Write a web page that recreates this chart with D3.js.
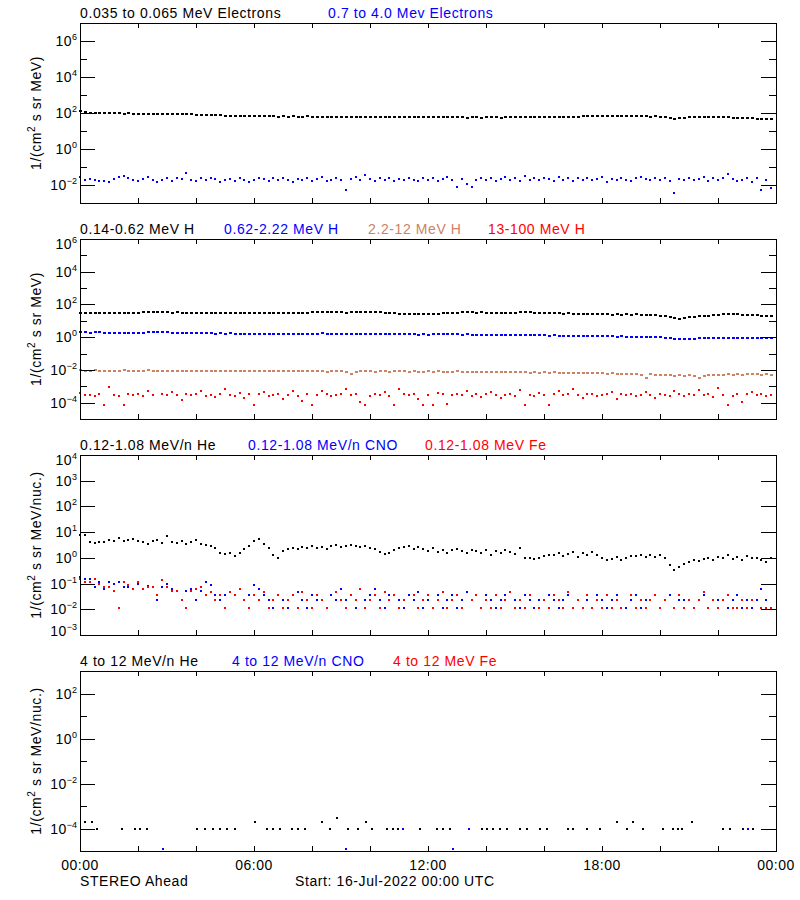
<!DOCTYPE html>
<html><head><meta charset="utf-8">
<script src="https://cdn.jsdelivr.net/npm/d3@7"></script>
<style>
body{margin:0;background:#fff;}
svg{display:block;font-family:"Liberation Sans",Arial,sans-serif;}
</style></head><body>
<svg id="c" width="800" height="900"></svg>
<script>
// ---------------- DATA ----------------
// 10-minute samples, hour of day 0..23.83
const sampleHours = d3.range(144).map(i => i / 6);

// Panel 1: electrons
const elecLow = [125,120,105,100,98,97, 96,95,94,93,95,92, 91,90,89,90,88,87, 86,85,86,84,83,84,
 80,78,79,76,75,74, 72,71,70,72,70,68, 66,65,66,64,65,63, 64,63,65,62,63,64,
 62,63,61,62,63,61, 62,60,61,63,62,60, 61,60,62,59,60,61, 60,59,58,60,59,58,
 58,59,57,58,57,59, 58,57,56,57,58,56, 57,58,57,56,58,57, 58,57,59,58,57,58,
 59,60,58,59,61,60, 61,62,64,66,67,68, 67,68,66,65,66,64, 65,66,64,65,63,64,
 62,60,55,49,52,56, 58,59,60,61,62,60, 59,58,57,56,55,54, 52,51,49,48,47,46];
const elecHigh = [0.028,0.018,0.022,0.019,0.017,0.016, 0.014,0.021,0.027,0.03,0.025,0.018,
 0.017,0.022,0.028,0.02,0.015,0.019, 0.024,0.017,0.026,0.021,0.047,0.02,
 0.016,0.023,0.018,0.025,0.021,0.015, 0.019,0.022,0.017,0.024,0.02,0.014,
 0.018,0.025,0.021,0.016,0.023,0.019, 0.026,0.02,0.015,0.022,0.018,0.024,
 0.017,0.021,0.028,0.016,0.02,0.023, 0.019,0.005,0.022,0.029,0.018,0.034,
 0.021,0.016,0.024,0.019,0.026,0.017, 0.022,0.018,0.025,0.02,0.016,0.023,
 0.019,0.024,0.017,0.022,0.027,0.018, 0.008,0.021,0.012,0.008,0.02,0.024,
 0.018,0.025,0.016,0.021,0.027,0.019, 0.023,0.017,0.03,0.02,0.024,0.018,
 0.025,0.021,0.016,0.028,0.02,0.023, 0.017,0.024,0.02,0.026,0.018,0.021,
 0.027,0.015,0.022,0.019,0.025,0.02, 0.016,0.023,0.029,0.021,0.018,0.024,
 0.02,0.026,0.017,0.0034,0.022,0.019, 0.024,0.018,0.021,0.027,0.016,0.023,
 0.019,0.025,0.041,0.022,0.017,0.02, 0.026,0.015,0.024,0.005,0.018,0.0065];

// Panel 2: protons
const protA = [31,32,31,30,31,32, 31,30,32,31,31,30, 32,33,34,35,34,33, 33,32,33,32,31,32,
 31,32,31,30,31,31, 30,31,30,31,32,31, 31,30,31,32,31,30, 31,32,31,30,31,32,
 33,34,35,34,35,34, 33,32,33,34,35,36, 35,34,33,32,30,29, 28,27,26,27,26,25,
 26,27,28,29,30,31, 32,33,34,33,32,33, 32,31,32,31,30,31, 32,33,34,33,32,31,
 30,29,30,29,28,29, 28,27,28,27,26,25, 26,25,24,25,24,25, 24,25,24,23,24,22,
 21,20,17,14,13,15, 17,18,19,20,21,22, 24,26,27,26,25,24, 23,22,22,21,21,20];
const protB = [2.0,2.0,1.9,2.0,1.95,1.9, 1.9,1.85,1.9,1.9,1.85,1.8, 1.85,1.9,2.0,2.1,2.2,2.1,
 2.0,1.9,1.85,1.8,1.75,1.8, 1.75,1.7,1.75,1.7,1.65,1.7, 1.65,1.7,1.65,1.6,1.65,1.6,
 1.6,1.65,1.6,1.6,1.55,1.6, 1.6,1.6,1.55,1.6,1.65,1.6, 1.6,1.65,1.7,1.65,1.6,1.6,
 1.6,1.55,1.6,1.65,1.6,1.55, 1.55,1.6,1.55,1.5,1.55,1.5, 1.5,1.55,1.5,1.5,1.45,1.5,
 1.45,1.5,1.5,1.55,1.5,1.5, 1.5,1.45,1.5,1.45,1.4,1.45, 1.4,1.45,1.4,1.4,1.35,1.4,
 1.35,1.4,1.35,1.3,1.35,1.3, 1.3,1.25,1.3,1.25,1.2,1.25, 1.2,1.25,1.2,1.15,1.2,1.15,
 1.15,1.2,1.15,1.1,1.15,1.1, 1.1,1.05,1.1,1.05,1.0,1.05, 1.0,0.95,0.85,0.8,0.76,0.78,
 0.8,0.82,0.85,0.88,0.9,0.92, 0.93,0.95,0.95,0.93,0.92,0.9, 0.9,0.88,0.89,0.87,0.86,0.87];
const protC = [0.0095,0.0092,0.009,0.0094,0.0091,0.0088, 0.009,0.0087,0.0089,0.0093,0.0088,0.0085,
 0.0088,0.0092,0.0095,0.009,0.0087,0.0089, 0.0091,0.0086,0.0084,0.0088,0.0085,0.0087,
 0.0083,0.0086,0.0088,0.0084,0.0081,0.0085, 0.0087,0.0083,0.0086,0.009,0.0085,0.0082,
 0.0084,0.0088,0.0085,0.0081,0.0086,0.0083, 0.0087,0.0084,0.0082,0.0086,0.0088,0.0084,
 0.0081,0.0085,0.0083,0.0079,0.0084,0.0086, 0.0082,0.0078,0.0055,0.0076,0.0083,0.0081,
 0.0084,0.0079,0.0082,0.0085,0.0078,0.0081, 0.0083,0.008,0.0077,0.0082,0.0079,0.0076,
 0.008,0.0077,0.0081,0.0078,0.0075,0.0079, 0.0082,0.0078,0.0074,0.0079,0.0076,0.0073,
 0.0077,0.0074,0.0078,0.0075,0.0071,0.0076, 0.0074,0.007,0.0073,0.0069,0.0072,0.0068,
 0.0071,0.0067,0.007,0.0066,0.0069,0.0065, 0.0068,0.0064,0.0066,0.0062,0.0065,0.0061,
 0.0063,0.0059,0.0062,0.0058,0.0055,0.0057, 0.0054,0.0056,0.0052,0.0031,0.0053,0.005,
 0.0052,0.0048,0.0046,0.0044,0.0047,0.0045, 0.0046,0.0043,0.0031,0.0045,0.0048,0.005,
 0.0052,0.0049,0.0053,0.0051,0.0054,0.0052, 0.0055,0.0053,0.0056,0.0052,0.0054,0.0051];
const protD = [4e-4,2.8e-4,3.1e-4,2.5e-4,3.3e-4,7e-5, 8.9e-4,3e-4,2.7e-4,7e-5,3.2e-4,2.9e-4,
 3.5e-4,2.6e-4,5e-4,3e-4,null,3.2e-4, 2.8e-4,4.5e-4,3.1e-4,1.4e-4,3.6e-4,2.9e-4,
 3.3e-4,5.5e-4,2.7e-4,3.1e-4,2.2e-4,3.4e-4, 6.5e-4,3e-4,2.6e-4,3.8e-4,1.8e-4,3.2e-4,
 7e-5,3.5e-4,4.2e-4,2.7e-4,3.1e-4,3.3e-4, 1.7e-4,3e-4,4.8e-4,2.6e-4,1.2e-4,3.4e-4,
 7e-5,2.8e-4,5.2e-4,3.5e-4,2.4e-4,3e-4, 3.3e-4,6.8e-4,2.9e-4,3.2e-4,1.1e-4,7e-5,
 2.7e-4,3.4e-4,3.1e-4,4.6e-4,2.5e-4,7e-5, 7.2e-4,3.3e-4,2.8e-4,3.2e-4,1.6e-4,7e-5,
 3e-4,7e-5,4.1e-4,3.3e-4,8.5e-5,2.9e-4, 3.4e-4,3.1e-4,5.4e-4,2.7e-4,3.6e-4,2.3e-4,
 3.2e-4,4.4e-4,2.9e-4,1.9e-4,3.1e-4,3.5e-4, 2.6e-4,6.2e-4,7e-5,3e-4,2.5e-4,3.7e-4,
 3.1e-4,7e-5,3.4e-4,5e-4,2.8e-4,3.2e-4, 6.6e-4,2.9e-4,1.9e-4,3.3e-4,3.6e-4,2.7e-4,
 3e-4,3.5e-4,4.3e-4,1.6e-4,3.2e-4,2.8e-4, 3.4e-4,2.6e-4,3.1e-4,4.7e-4,2.9e-4,1.9e-4,
 3.3e-4,3e-4,2.4e-4,5.1e-4,3.2e-4,2.7e-4, 3.5e-4,2.8e-4,5.9e-4,3.1e-4,3.4e-4,2.2e-4,
 7.4e-4,3e-4,7e-5,2.6e-4,3.3e-4,1.1e-4, 3.2e-4,4.2e-4,2.9e-4,3.5e-4,2.4e-4,3.1e-4];

// Panel 3: 0.12-1.08 MeV/n ions
const ionHe = [7.9,7.8,4.0,3.9,4.0, 4.2,5.0,4.5,6.0,4.6, 4.8,5.5,4.6,4.2,3.6,4.4,5.0,3.8, 7.0,
 4.2,3.7,4.6,3.5,4.3,4.9,3.6, 3.2,2.8,2.5, 1.6,1.4,1.5,1.15, 1.6,2.2,3.0,4.5,5.2,
 3.5,2.4,1.3,1.0, 1.9,2.2,2.4,2.3,2.6,2.5,2.8,2.4,2.7,2.3, 2.9,3.1,2.6,2.8,3.3,2.9,2.7,3.0,
 2.5,2.2,1.7,1.4,1.6,2.0,2.4, 2.6,2.8,2.3,2.7, 2.2,1.9,2.4,1.7,2.1,1.6,2.0,2.3,1.8,1.5,2.1,1.9,
 1.6,2.0,1.3,1.8,1.5,2.1,1.7,1.4,2.45, 1.0,0.95,0.9,1.0, 1.15,1.3,1.25,
 1.6,1.2,1.45,1.7,1.1,1.5,1.35,1.65,1.25, 1.0,0.85,0.9,1.1,0.8,0.95,1.15,
 1.2,1.3,1.05,1.35,1.1,1.25,1.0, 0.55,0.33,0.45,0.6, 0.7,0.8,0.75,0.9,1.0,0.85,
 1.1,0.95,1.3,0.9,1.05,0.85,1.2,0.95,1.0,0.8, 0.7,1.0];
const ionCNO = [0.177,0.145,0.145,0.075,0.12,0.059, 0.118,0.097,0.118,0.075,0.075,null,
 0.097,null,0.08,null,0.024,0.075, 0.097,0.059,0.05,0.024,0.05,0.059,
 0.024,0.05,0.12,0.09,0.036,0.024, 0.036,0.048,0.036,null,0.024,0.036,
 0.09,0.059,0.036,0.024,0.0117,0.036, 0.024,0.0117,null,0.048,0.024,0.0117,
 0.036,0.024,null,0.0117,0.036,0.024, 0.059,0.024,0.036,0.0117,null,0.024,
 0.036,0.059,0.024,0.0117,0.036,null, 0.024,0.0117,0.036,0.024,0.048,0.0117,
 0.024,null,0.036,0.0117,0.024,0.036, 0.0117,0.024,0.048,0.024,null,0.0117,
 0.036,0.024,0.0117,0.024,0.036,null, 0.024,0.0117,0.036,0.024,0.0117,0.024,
 null,0.036,0.024,0.0117,0.024,0.036, 0.0117,0.024,null,0.024,0.0117,0.036,
 0.024,0.0117,0.024,0.036,null,0.0117, 0.024,0.036,0.0117,0.024,0.024,null,
 0.0117,0.024,0.036,0.0117,0.024,0.024, null,0.0117,0.024,0.036,0.0117,0.024,
 0.024,null,0.0117,0.024,0.036,0.0117, 0.024,0.0117,0.024,0.059,0.024,0.0117];
const ionFe = [0.145,0.12,0.12,0.145,0.097,0.075, 0.075,0.05,0.0117,0.12,0.09,0.059,
 0.12,0.059,0.075,0.075,0.036,0.14, 0.075,0.05,0.05,0.024,0.0117,0.05,
 0.059,0.075,0.036,0.048,0.024,0.036, 0.0117,0.048,0.036,0.059,0.024,0.0117,
 0.036,0.024,0.048,0.0117,0.024,0.036, 0.0117,0.024,0.036,0.0117,0.048,0.024,
 0.0117,0.036,0.024,0.0117,null,0.048, 0.024,0.0117,0.036,0.024,0.059,0.0117,
 0.024,0.036,0.0117,0.048,0.024,0.036, 0.0117,0.024,null,0.036,0.0117,0.024,
 0.036,0.0117,0.024,0.048,0.0117,0.024, 0.036,0.0117,null,0.024,0.036,0.0117,
 0.024,0.0117,0.036,0.0117,0.024,0.048, 0.0117,0.024,0.0117,0.036,null,0.0117,
 0.024,0.0117,0.036,0.024,0.0117,0.048, 0.0117,0.024,0.0117,0.036,0.0117,0.024,
 0.0117,0.036,0.0117,0.024,0.0117,null, 0.036,0.0117,0.024,0.0117,0.024,0.036,
 0.0117,0.024,null,0.0117,0.036,0.0117, 0.024,0.0117,0.024,0.048,0.0117,0.024,
 0.0117,0.024,0.036,0.0117,0.0117,0.024, 0.0117,0.024,null,0.0117,0.0117,0.0117];

// Panel 4: 4-12 MeV/n ions (sparse)
const hiHeHours = [0.17,0.4,0.57, 1.44,1.9,2.07,2.3, 4.02,4.31,4.6,4.83,5.06,5.34, 6.03,
 6.44,6.67,6.9,7.3,7.53,7.76, 8.33,8.62,8.87,9.25,9.6,9.86, 10.06,10.57,10.8,10.98,
 11.15,11.72,12.3,12.53,12.76, 13.85,14.02,14.25,14.48,14.71, 15.17,15.4,15.86,16.09,
 16.84,17.01,17.47,17.93, 18.5,18.85,19.08,19.43, 20.11,20.46,20.63,20.75, 21.09,
 22.18,22.41,22.87,23.05,23.22];
const hiHeVals = [1.9e-4,1.9e-4,1e-4, 1e-4,1e-4,1e-4,1e-4, 1e-4,1e-4,1e-4,1e-4,1e-4,1e-4, 1.9e-4,
 1e-4,1e-4,1e-4,1e-4,1e-4,1e-4, 1.9e-4,1e-4,2.9e-4,1e-4,1e-4,1.9e-4, 1e-4,1e-4,1e-4,1e-4,
 1e-4,1e-4,1e-4,1e-4,1e-4, 1e-4,1e-4,1e-4,1e-4,1e-4, 1e-4,1e-4,1e-4,1e-4,
 1e-4,1e-4,1e-4,1e-4, 1.9e-4,1e-4,1.9e-4,1e-4, 1e-4,1e-4,1e-4,1e-4, 1.9e-4,
 1e-4,1e-4,1e-4,1e-4,1e-4];
const hiCNOHours = [2.85, 9.17, 12.85, 11.15, 13.43, 23.05];
const hiCNOVals  = [1.2e-5, 1.2e-5, 1.2e-5, 1e-4, 1e-4, 1e-4];
const hiFeHours = [];
const hiFeVals = [];

// Labels
const timeTickLabels = ["00:00","06:00","12:00","18:00","00:00"];
const timeTickHours = [0,6,12,18,24];

// ---------------- LAYOUT ----------------
const svg = d3.select("#c");
const X0 = 80, X1 = 776, PH = 180;
const TAN = "rgb(205,130,100)";
const x = d3.scaleLinear().domain([0,24]).range([X0, X1]);

const panels = [
  { top: 23, lo: -3, hi: 7, major: [-2,0,2,4,6], minor: [-1,1,3,5], labels: [-2,0,2,4,6],
    ytitle: "MeV)", 
    titles: [{t:"0.035 to 0.065 MeV Electrons", c:"#000", x:80},{t:"0.7 to 4.0 Mev Electrons", c:"#0000ff", x:328}],
    series: [{h:sampleHours, v:elecLow, c:"#000", w:3},{h:sampleHours, v:elecHigh, c:"#0000ff", w:2}] },
  { top: 239, lo: -5, hi: 6, major: [-4,-2,0,2,4], minor: [-3,-1,1,3,5], labels: [-4,-2,0,2,4,6],
    ytitle: "MeV)",
    titles: [{t:"0.14-0.62 MeV H", c:"#000", x:80},{t:"0.62-2.22 MeV H", c:"#0000ff", x:224},
             {t:"2.2-12 MeV H", c:TAN, x:368},{t:"13-100 MeV H", c:"#ff0000", x:488}],
    series: [{h:sampleHours, v:protA, c:"#000", w:3},{h:sampleHours, v:protB, c:"#0000ff", w:3},
             {h:sampleHours, v:protC, c:TAN, w:3},{h:sampleHours, v:protD, c:"#ff0000", w:2}] },
  { top: 455, lo: -3, hi: 4, major: [-2,-1,0,1,2,3], minor: [], labels: [-3,-2,-1,0,1,2,3,4],
    ytitle: "MeV/nuc.)",
    titles: [{t:"0.12-1.08 MeV/n He", c:"#000", x:80},{t:"0.12-1.08 MeV/n CNO", c:"#0000ff", x:248},
             {t:"0.12-1.08 MeV Fe", c:"#ff0000", x:425}],
    series: [{h:sampleHours, v:ionHe, c:"#000", w:2},{h:sampleHours, v:ionCNO, c:"#0000ff", w:2},
             {h:sampleHours, v:ionFe, c:"#ff0000", w:2}] },
  { top: 671, lo: -5, hi: 3, major: [-4,-2,0,2], minor: [-3,-1,1], labels: [-4,-2,0,2],
    ytitle: "MeV/nuc.)",
    titles: [{t:"4 to 12 MeV/n He", c:"#000", x:80},{t:"4 to 12 MeV/n CNO", c:"#0000ff", x:232},
             {t:"4 to 12 MeV Fe", c:"#ff0000", x:393}],
    series: [{h:hiHeHours, v:hiHeVals, c:"#000", w:2},{h:hiCNOHours, v:hiCNOVals, c:"#0000ff", w:2},
             {h:hiFeHours, v:hiFeVals, c:"#ff0000", w:2}] }
];

const xTickHours = d3.range(2, 24, 2);

panels.forEach((p, pi) => {
  const top = p.top, bot = top + PH;
  const y = d3.scaleLog().domain([Math.pow(10,p.lo), Math.pow(10,p.hi)]).range([bot, top]);
  const g = svg.append("g");

  // data points
  p.series.forEach(s => {
    const pts = s.h.map((h,i) => ({h, v: s.v[i]})).filter(d => d.v != null && d.v > 0);
    g.append("g").attr("fill", s.c).attr("shape-rendering","crispEdges")
      .selectAll("rect").data(pts).enter().append("rect")
      .attr("x", d => Math.round(x(d.h)) - 1)
      .attr("y", d => Math.round(y(d.v)) - 1)
      .attr("width", s.w).attr("height", 2);
  });

  // y axes (left & right) major/minor ticks
  const axes = [
    [d3.axisLeft(y).tickValues(p.major.map(e=>Math.pow(10,e))).tickSize(-15), X0],
    [d3.axisLeft(y).tickValues(p.minor.map(e=>Math.pow(10,e))).tickSize(-7), X0],
    [d3.axisRight(y).tickValues(p.major.map(e=>Math.pow(10,e))).tickSize(-15), X1],
    [d3.axisRight(y).tickValues(p.minor.map(e=>Math.pow(10,e))).tickSize(-7), X1]
  ];
  axes.forEach(([ax, xpos]) => {
    const a = g.append("g").attr("transform", `translate(${xpos},0)`)
      .call(ax.tickFormat("").tickSizeOuter(0));
    a.select(".domain").remove();
    a.selectAll("line").attr("stroke","#000").attr("shape-rendering","crispEdges");
  });
  // x axes ticks (top & bottom)
  [[d3.axisTop(x), top, -5],[d3.axisBottom(x), bot, -5]].forEach(([ax, ypos, sz]) => {
    const a = g.append("g").attr("transform", `translate(0,${ypos})`)
      .call(ax.tickValues(xTickHours).tickSize(sz).tickFormat("").tickSizeOuter(0));
    a.select(".domain").remove();
    a.selectAll("line").attr("stroke","#000").attr("shape-rendering","crispEdges");
  });

  // frame
  g.append("rect").attr("x", X0 + 0.5).attr("y", top + 0.5)
    .attr("width", X1 - X0).attr("height", PH)
    .attr("fill","none").attr("stroke","#000").attr("stroke-width",1)
    .attr("shape-rendering","crispEdges");

  // y tick labels 10^n
  p.labels.forEach(e => {
    let yy = y(Math.pow(10,e)) + 5;
    if (e === p.hi) yy += 5;
    if (e === p.lo) yy -= 4;
    const t = g.append("text").attr("x", 77).attr("y", yy)
      .attr("text-anchor","end").attr("font-size", 14).attr("letter-spacing", 0.5).attr("fill","#000");
    t.append("tspan").text("10");
    t.append("tspan").attr("dy", -6).attr("font-size", 9).attr("letter-spacing", 0)
      .text(e < 0 ? "\u2212" + Math.abs(e) : String(e));
  });

  // y title
  const yt = g.append("text")
    .attr("transform", `translate(41,${top + PH/2}) rotate(-90)`)
    .attr("text-anchor","middle").attr("font-size", 14).attr("letter-spacing", 0.6).attr("fill","#000");
  yt.append("tspan").text("1/(cm");
  yt.append("tspan").attr("dy", -6).attr("font-size", 10).text("2");
  yt.append("tspan").attr("dy", 6).text(" s sr " + p.ytitle);

  // panel titles
  p.titles.forEach(tt => {
    g.append("text").attr("x", tt.x).attr("y", top - 5)
      .attr("font-size", 14).attr("letter-spacing", 0.6).attr("fill", tt.c).text(tt.t);
  });

  // bottom time labels only on the last panel
  if (pi === panels.length - 1) {
    timeTickHours.forEach((h,i) => {
      g.append("text").attr("x", x(h)).attr("y", bot + 19)
        .attr("text-anchor","middle").attr("font-size", 14).attr("letter-spacing", 0.5)
        .attr("fill","#000").text(timeTickLabels[i]);
    });
  }
});

svg.append("text").attr("x", 80).attr("y", 886).attr("font-size", 14).attr("letter-spacing", 0.6)
  .attr("fill","#000").text("STEREO Ahead");
svg.append("text").attr("x", 295).attr("y", 886).attr("font-size", 14).attr("letter-spacing", 0.6)
  .attr("fill","#000").text("Start: 16-Jul-2022 00:00 UTC");
</script>
</body></html>
